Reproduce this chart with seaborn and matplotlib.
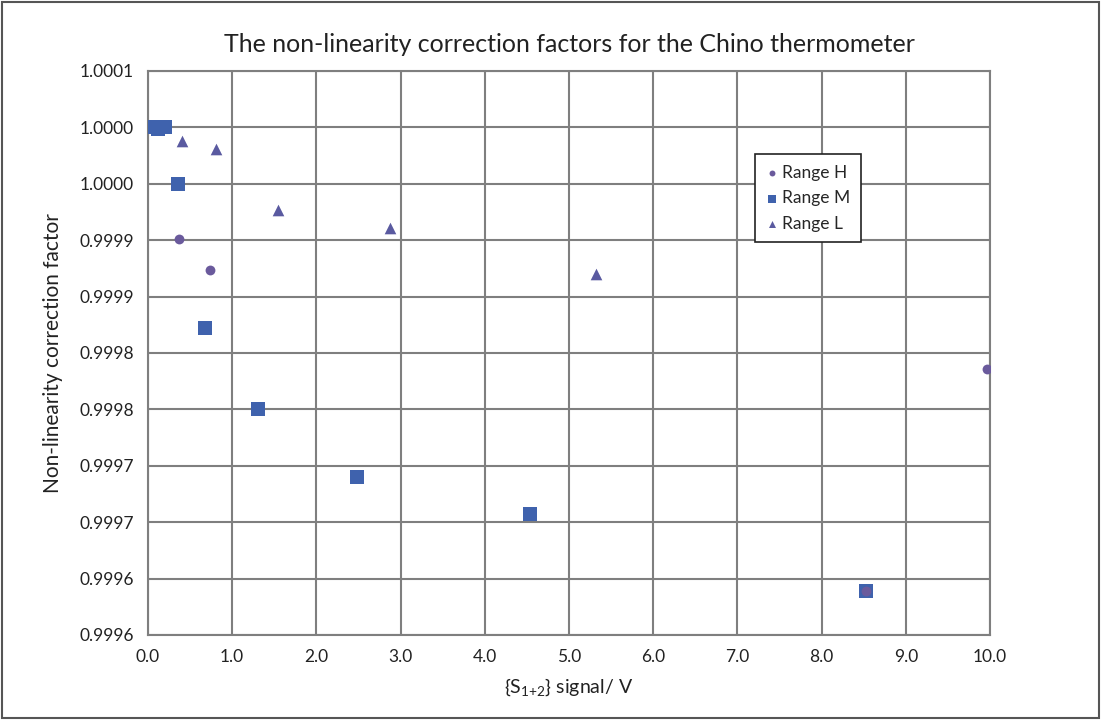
import matplotlib
matplotlib.use("Agg")
import matplotlib.pyplot as plt
from matplotlib.patches import Rectangle
import seaborn as sns
import pandas as pd

# Measured correction factors per range
h_signal = [0.37, 0.74, 8.53, 9.96]
h_factor = [0.999901, 0.999874, 0.999589, 0.999786]

m_signal = [0.05, 0.12, 0.20, 0.36, 0.68, 1.31, 2.48, 4.54, 8.53]
m_factor = [1.000000, 0.999999, 1.000000, 0.999950, 0.999822, 0.999750, 0.999690, 0.999657, 0.999589]

l_signal = [0.40, 0.81, 1.54, 2.87, 5.32]
l_factor = [0.999988, 0.999981, 0.999927, 0.999911, 0.999870]

range_names = ["Range H", "Range M", "Range L"]

x_ticks = [0, 1, 2, 3, 4, 5, 6, 7, 8, 9, 10]
x_tick_labels = ["0.0", "1.0", "2.0", "3.0", "4.0", "5.0", "6.0", "7.0", "8.0", "9.0", "10.0"]
y_ticks = [0.99955, 0.9996, 0.99965, 0.9997, 0.99975, 0.9998, 0.99985, 0.9999, 0.99995, 1.0000, 1.00005]
y_tick_labels = ["0.9996", "0.9996", "0.9997", "0.9997", "0.9998", "0.9998",
                 "0.9999", "0.9999", "1.0000", "1.0000", "1.0001"]

df = pd.concat([
    pd.DataFrame({"signal": m_signal, "factor": m_factor, "Range": "Range M"}),
    pd.DataFrame({"signal": l_signal, "factor": l_factor, "Range": "Range L"}),
    pd.DataFrame({"signal": h_signal, "factor": h_factor, "Range": "Range H"}),
], ignore_index=True)

sns.set_theme(style="white")
plt.rcParams["font.family"] = ["Lato", "DejaVu Sans"]

fig = plt.figure(figsize=(11.01, 7.2), dpi=100)
ax = fig.add_axes([0.1344, 0.1181, 0.7648, 0.7833])

palette = {"Range H": "#6a5a9c", "Range M": "#3f62ad", "Range L": "#5a5aa0"}
markers = {"Range H": "o", "Range M": "s", "Range L": "^"}
sizes = {"Range H": 50, "Range M": 90, "Range L": 70}

for name in ["Range M", "Range L", "Range H"]:
    sub = df[df["Range"] == name]
    sns.scatterplot(data=sub, x="signal", y="factor", ax=ax, color=palette[name],
                    marker=markers[name], s=sizes[name], linewidth=0, label=name,
                    zorder=3)

ax.set_xlim(0, 10)
ax.set_ylim(0.99955, 1.00005)
ax.set_xticks(x_ticks)
ax.set_xticklabels(x_tick_labels)
ax.set_yticks(y_ticks)
ax.set_yticklabels(y_tick_labels)
ax.tick_params(axis="both", length=0, labelsize=12.5, colors="#222222", pad=10)
ax.grid(True, color="#7f7f7f", linewidth=1.5)
ax.set_axisbelow(True)
for sp in ax.spines.values():
    sp.set_visible(True)
    sp.set_color("#7f7f7f")
    sp.set_linewidth(1.5)

ax.set_xlabel(r"{S$_{\mathregular{1{+}2}}$} signal/ V", fontsize=14, color="#222222", labelpad=8)
ax.set_ylabel("Non-linearity correction factor", fontsize=15, color="#222222", labelpad=12)
ax.set_title("The non-linearity correction factors for the Chino thermometer",
             fontsize=18, color="#222222", pad=14)

handles, labels = ax.get_legend_handles_labels()
order = [labels.index(n) for n in range_names]
leg = ax.legend([handles[i] for i in order], [labels[i] for i in order],
                loc="upper left", bbox_to_anchor=(0.71, 0.868), frameon=True,
                fancybox=False, edgecolor="#222222", fontsize=12.5,
                handletextpad=0.2, handlelength=0.8, borderpad=0.6,
                labelspacing=0.55, markerscale=0.6)
leg.get_frame().set_linewidth(1.2)
leg.get_frame().set_facecolor("white")
leg.get_frame().set_alpha(1)

fig.patches.append(Rectangle((0.002, 0.003), 0.996, 0.994, transform=fig.transFigure,
                             fill=False, edgecolor="#555555", linewidth=1.5))

fig.savefig("out.png", dpi=100)
